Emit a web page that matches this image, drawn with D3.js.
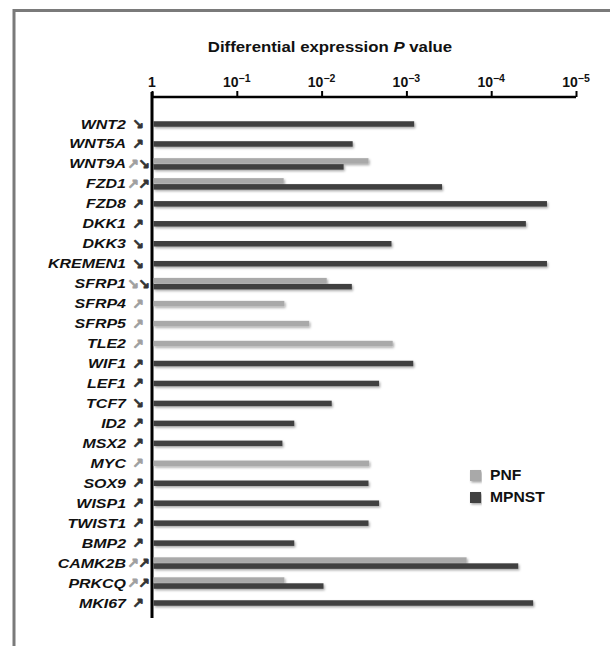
<!DOCTYPE html>
<html><head><meta charset="utf-8">
<script src="https://cdn.jsdelivr.net/npm/d3@7"></script>
<style>body{margin:0;background:#fff}</style>
</head><body>
<svg id="c" width="610" height="646"></svg>
<script>
const genes = ["WNT2","WNT5A","WNT9A","FZD1","FZD8","DKK1","DKK3","KREMEN1","SFRP1","SFRP4","SFRP5","TLE2","WIF1","LEF1","TCF7","ID2","MSX2","MYC","SOX9","WISP1","TWIST1","BMP2","CAMK2B","PRKCQ","MKI67"];
const pnfP =   [null,null,2.8e-3,2.8e-2,null,null,null,null,8.7e-3,2.75e-2,1.4e-2,1.45e-3,null,null,null,null,null,2.75e-3,null,null,null,null,1.95e-4,2.75e-2,null];
const mpnstP = [8.1e-4,4.3e-3,5.5e-3,3.8e-4,2.2e-5,3.9e-5,1.5e-3,2.2e-5,4.4e-3,null,null,null,8.3e-4,2.1e-3,7.6e-3,2.1e-2,2.9e-2,null,2.8e-3,2.1e-3,2.8e-3,2.1e-2,4.8e-5,9.5e-3,3.2e-5];
const pnfDir =   [null,null,"up","up",null,null,null,null,"down","up","up","up",null,null,null,null,null,"up",null,null,null,null,"up","up",null];
const mpnstDir = ["down","up","down","up","up","up","down","down","down",null,null,null,"up","up","down","up","up",null,"up","up","up","up","up","up","up"];
const tickVals = [1,1e-1,1e-2,1e-3,1e-4,1e-5];
const tickExps = ["","−1","−2","−3","−4","−5"];
const seriesNames = ["PNF","MPNST"];
const colors = {PNF:"#a9a9a9", MPNST:"#404040"};

const svg = d3.select("#c");
const defs = svg.append("defs");
const f = defs.append("filter").attr("id","sh").attr("x","-5%").attr("y","-50%").attr("width","110%").attr("height","250%");
f.append("feDropShadow").attr("dx",1.2).attr("dy",1.5).attr("stdDeviation",0.8).attr("flood-color","#000").attr("flood-opacity",0.35);

// frame
svg.append("rect").attr("x",14).attr("y",10.5).attr("width",700).attr("height",700)
  .attr("fill","none").attr("stroke","#7a7a7a").attr("stroke-width",3);

const x = d3.scaleLog().domain([1,1e-5]).range([152,576]);
const y = d3.scalePoint().domain(genes).range([124,603]);

// title
const t = svg.append("text").attr("transform","translate(330,52) scale(1.12,1)").attr("text-anchor","middle")
  .attr("font-family","Liberation Sans, Arial, sans-serif").attr("font-weight","bold").attr("font-size",15).attr("fill","#111");
t.append("tspan").text("Differential expression ");
t.append("tspan").attr("font-style","italic").text("P");
t.append("tspan").text(" value");

// top axis
const axis = d3.axisTop(x).tickValues(tickVals).tickSize(6).tickFormat("");
const ag = svg.append("g").attr("transform","translate(0,97)").call(axis);
ag.select(".domain").attr("stroke","#000").attr("stroke-width",2.5).attr("d",`M${x(1)},0H${x(1e-5)}`);
ag.selectAll(".tick line").attr("stroke","#000").attr("stroke-width",2);
tickVals.forEach((v,i)=>{
  const tx = svg.append("text").attr("x",x(v)).attr("y",87).attr("text-anchor","middle")
    .attr("font-family","Liberation Sans, Arial, sans-serif").attr("font-weight","bold").attr("font-size",14).attr("fill","#111");
  if(i===0){ tx.text("1"); }
  else { tx.append("tspan").text("10"); tx.append("tspan").attr("dy",-5.5).attr("font-size",10.5).text(tickExps[i]); }
});

// vertical axis
svg.append("line").attr("x1",x(1)).attr("x2",x(1)).attr("y1",92).attr("y2",618).attr("stroke","#000").attr("stroke-width",3);

// bars
const bh = 5.5;
genes.forEach((g,i)=>{
  const two = pnfP[i]!=null && mpnstP[i]!=null;
  const cy = y(g);
  if(pnfP[i]!=null){
    const yc = two ? cy-3 : cy;
    svg.append("rect").attr("x",x(1)+1.5).attr("y",yc-bh/2).attr("width",x(pnfP[i])-x(1)-1.5).attr("height",bh)
      .attr("fill",colors.PNF).attr("filter","url(#sh)");
  }
  if(mpnstP[i]!=null){
    const yc = two ? cy+3 : cy;
    svg.append("rect").attr("x",x(1)+1.5).attr("y",yc-bh/2).attr("width",x(mpnstP[i])-x(1)-1.5).attr("height",bh)
      .attr("fill",colors.MPNST).attr("filter","url(#sh)");
  }
  // label
  svg.append("text").attr("transform",`translate(126,${cy+4.5}) scale(1.33,1)`).attr("text-anchor","end")
    .attr("font-family","Liberation Sans, Arial, sans-serif").attr("font-weight","bold").attr("font-style","italic")
    .attr("font-size",12).attr("fill","#111").text(g);
  // arrows
  const arr = d => d==="up" ? "↗" : "↘";
  const bothArr = pnfDir[i]!=null && mpnstDir[i]!=null;
  if(pnfDir[i]!=null){
    svg.append("text").attr("x", bothArr?133:138).attr("y",cy+5).attr("text-anchor","middle")
      .attr("font-family","DejaVu Sans, sans-serif").attr("font-weight","bold").attr("font-size",14)
      .attr("fill","#a0a0a0").attr("stroke","#a0a0a0").attr("stroke-width",0.7).text(arr(pnfDir[i]));
  }
  if(mpnstDir[i]!=null){
    svg.append("text").attr("x", bothArr?144:138).attr("y",cy+5).attr("text-anchor","middle")
      .attr("font-family","DejaVu Sans, sans-serif").attr("font-weight","bold").attr("font-size",14)
      .attr("fill","#333").attr("stroke","#333").attr("stroke-width",0.7).text(arr(mpnstDir[i]));
  }
});

// legend
seriesNames.forEach((s,i)=>{
  const ly = 470 + i*22;
  svg.append("rect").attr("x",470).attr("y",ly).attr("width",11).attr("height",11)
    .attr("fill",colors[s]).attr("filter","url(#sh)");
  svg.append("text").attr("transform",`translate(490,${ly+10}) scale(1.12,1)`)
    .attr("font-family","Liberation Sans, Arial, sans-serif").attr("font-weight","bold").attr("font-size",14)
    .attr("fill","#111").text(s);
});
</script>
</body></html>
